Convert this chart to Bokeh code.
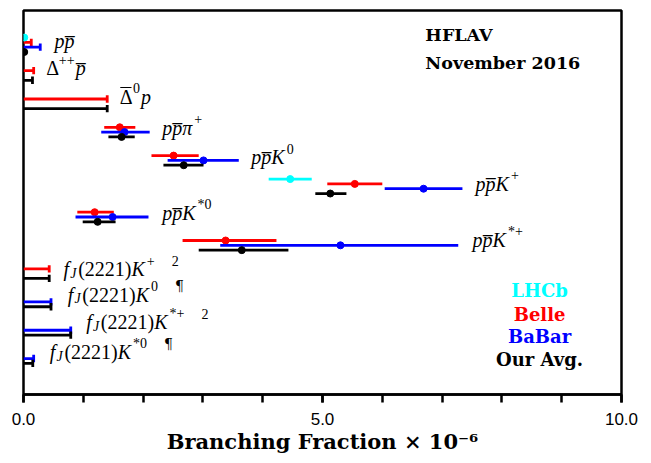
from bokeh.plotting import figure
from bokeh.models import Range1d, FixedTicker, NumeralTickFormatter
from bokeh.core.properties import value
from bokeh.embed import file_html
from bokeh.resources import INLINE

# ---------------- data (branching fractions x 1e-6) ----------------
decays = ["pp̄", "Δ⁺⁺p̄", "Δ̄⁰p", "pp̄π⁺", "pp̄K⁰", "pp̄K⁺", "pp̄K*⁰", "pp̄K*⁺",
          "fJ(2221)K⁺", "fJ(2221)K⁰", "fJ(2221)K*⁺", "fJ(2221)K*⁰"]

lhcb_row = [0, 5]
lhcb_val = [0.0125, 4.46]
lhcb_lo = [0.0075, 4.10]
lhcb_hi = [0.0175, 4.82]

belle_row = [3, 4, 5, 6, 7]
belle_val = [1.61, 2.51, 5.54, 1.19, 3.38]
belle_lo = [1.35, 2.14, 5.08, 0.90, 2.66]
belle_hi = [1.87, 2.93, 6.00, 1.51, 4.23]
belle_ul_row = [0, 1, 2, 8]
belle_ul = [0.13, 0.17, 1.40, 0.43]

babar_row = [3, 4, 5, 6, 7]
babar_val = [1.69, 3.01, 6.69, 1.49, 5.30]
babar_lo = [1.30, 2.41, 6.04, 0.87, 3.29]
babar_hi = [2.11, 3.60, 7.34, 2.09, 7.27]
babar_ul_row = [0, 9, 10, 11]
babar_ul = [0.28, 0.46, 0.79, 0.17]

avg_row = [0, 3, 4, 5, 6, 7]
avg_val = [0.0125, 1.64, 2.68, 5.13, 1.24, 3.65]
avg_lo = [0.0075, 1.42, 2.34, 4.88, 0.99, 2.93]
avg_hi = [0.0175, 1.86, 3.01, 5.40, 1.54, 4.43]
avg_ul_row = [1, 2, 8, 9, 10, 11]
avg_ul = [0.15, 1.40, 0.43, 0.46, 0.79, 0.155]

x_ticks = [0, 5, 10]
x_minor = [0, 1, 2, 3, 4, 5, 6, 7, 8, 9, 10]

# ---------------- layout / style ----------------
OFF = {"LHCb": -0.51, "Belle": -0.34, "BaBar": -0.17, "Avg": 0.0}
COL = {"LHCb": "#00FFFF", "Belle": "#FF0000", "BaBar": "#0000FF", "Avg": "#000000"}
LW = 2.8
CAP = 0.13
YMIN, YMAX = -1.466, 12.10
W_PX, H_PX = 651, 463
BL, BR, BT, BB = 23, 30, 10, 69
PX_X = (W_PX - BL - BR) / 10.0            # px per x unit
PX_Y = (H_PX - BT - BB) / (YMAX - YMIN)   # px per row unit
TSHIFT = -7                                # text baseline correction (px)

p = figure(width=W_PX, height=H_PX, output_backend="svg", toolbar_location=None,
           x_range=Range1d(0, 10), y_range=Range1d(YMAX, YMIN),
           y_axis_location=None, min_border_left=BL, min_border_right=BR,
           min_border_top=BT, min_border_bottom=BB)
p.xgrid.visible = False
p.ygrid.visible = False
p.outline_line_color = "black"
p.outline_line_width = 2.5
p.background_fill_color = "white"
p.border_fill_color = "white"

ax = p.xaxis[0]
ax.ticker = FixedTicker(ticks=x_ticks, minor_ticks=x_minor)
ax.formatter = NumeralTickFormatter(format="0.0")
ax.axis_line_width = 2.5
ax.major_tick_line_width = 2.5
ax.minor_tick_line_width = 2.5
ax.major_tick_in = 0
ax.major_tick_out = 8
ax.minor_tick_in = 0
ax.minor_tick_out = 8
ax.major_label_text_font = "Liberation Sans"
ax.major_label_text_font_size = "17px"
ax.major_label_text_color = "black"
ax.major_label_standoff = 10
ax.axis_label = "Branching Fraction × 10⁻⁶"
ax.axis_label_text_font = "DejaVu Serif"
ax.axis_label_text_font_style = "bold"
ax.axis_label_text_font_size = "21px"
ax.axis_label_text_color = "black"
ax.axis_label_standoff = 1


def meas(rows, val, lo, hi, key):
    y = [r + OFF[key] for r in rows]
    p.segment(x0=lo, x1=hi, y0=y, y1=y, line_color=COL[key], line_width=LW)
    p.scatter(x=val, y=y, size=7, color=COL[key])


def limits(rows, ul, key):
    y = [r + OFF[key] for r in rows]
    p.segment(x0=[0] * len(ul), x1=ul, y0=y, y1=y, line_color=COL[key], line_width=LW)
    p.segment(x0=ul, x1=ul, y0=[v - CAP for v in y], y1=[v + CAP for v in y],
              line_color=COL[key], line_width=LW)


limits(belle_ul_row, belle_ul, "Belle")
limits(babar_ul_row, babar_ul, "BaBar")
limits(avg_ul_row, avg_ul, "Avg")
meas(lhcb_row, lhcb_val, lhcb_lo, lhcb_hi, "LHCb")
meas(belle_row, belle_val, belle_lo, belle_hi, "Belle")
meas(babar_row, babar_val, babar_lo, babar_hi, "BaBar")
meas(avg_row, avg_val, avg_lo, avg_hi, "Avg")

# ---------------- decay labels (composed text pieces) ----------------
FS = 20
SS = 14
W = {"p": 0.5, "K": 0.667, "f": 0.278, "J": 0.444, "π": 0.55, "Δ": 0.612,
     "0": 0.5, "1": 0.5, "2": 0.5, "(": 0.333, ")": 0.333, "+": 0.564,
     "*": 0.5, "¶": 0.6, " ": 0.25}

OL = "\u0305"
# (text, kind, gap before in em, overline height above baseline in px or None)
fj = [("f", "i", 0, None), ("J", "sub", 0.06, None), ("(2221)", "r", 0.08, None), ("K", "i", 0, None)]
label_parts = [
    [("pp" + OL, "i", 0, None)],
    [("Δ", "r", 0, None), ("++", "sup", 0.02, None), ("p" + OL, "i", 0.05, None)],
    [("Δ", "r", 0, 16.0), ("0", "sup", 0.05, None), ("p", "i", 0.05, None)],
    [("pp" + OL + "π", "i", 0, None), ("+", "sup", 0.05, None)],
    [("pp" + OL + "K", "i", 0, None), ("0", "sup", 0.1, None)],
    [("pp" + OL + "K", "i", 0, None), ("+", "sup", 0.1, None)],
    [("pp" + OL + "K", "i", 0, None), ("*0", "sup", 0.1, None)],
    [("pp" + OL + "K", "i", 0, None), ("*+", "sup", 0.1, None)],
    fj + [("+", "sup", 0.1, None), ("2", "sup", 0.85, None)],
    fj + [("0", "sup", 0.1, None), ("¶", "sup", 0.85, None)],
    fj + [("*+", "sup", 0.1, None), ("2", "sup", 0.85, None)],
    fj + [("*0", "sup", 0.1, None), ("¶", "sup", 0.85, None)],
]
label_x = [0.52, 0.38, 1.61, 2.32, 3.81, 7.56, 2.32, 7.51, 0.67, 0.74, 1.05, 0.44]
label_dy = [-0.14, -0.18, -0.18, -0.07, -0.04, -0.10, -0.07, -0.10, -0.07, -0.18, -0.21, -0.14]

for i, parts in enumerate(label_parts):
    cur = 0.0
    base_y = i + label_dy[i]
    for txt, kind, gap, ovl in parts:
        cur += gap * FS
        size = SS if kind in ("sup", "sub") else FS
        yoff = -8.5 if kind == "sup" else (4 if kind == "sub" else 0)
        style = "italic" if kind in ("i", "sub") else "normal"
        font = "DejaVu Serif" if txt == "¶" else "Liberation Serif"
        p.text(x=[label_x[i]], y=[base_y], text=[txt], x_offset=cur, y_offset=yoff + TSHIFT,
               text_font=value(font), text_font_style=style,
               text_font_size=f"{size}px", text_baseline="alphabetic", text_align="left",
               text_color="black")
        wpx = sum(W.get(c, 0.0) for c in txt) * size
        if ovl is not None:
            x0 = label_x[i] + (cur + 0.5) / PX_X
            x1 = label_x[i] + (cur + wpx - 0.5) / PX_X
            yl = base_y - ovl / PX_Y
            p.segment(x0=[x0], x1=[x1], y0=[yl], y1=[yl], line_color="black", line_width=1.2)
        cur += wpx

# ---------------- header and legend ----------------
p.text(x=[6.72, 6.72], y=[-0.336, 0.62], text=["HFLAV", "November 2016"], y_offset=TSHIFT,
       text_font=value("DejaVu Serif"), text_font_style="bold", text_font_size="17.5px",
       text_baseline="alphabetic", text_align="left", text_color="black")

leg_names = ["LHCb", "Belle", "BaBar", "Our Avg."]
leg_cols = [COL["LHCb"], COL["Belle"], COL["BaBar"], COL["Avg"]]
leg_y = [8.67, 9.52, 10.30, 11.11]
p.text(x=[8.63] * 4, y=leg_y, text=leg_names, text_color=leg_cols, y_offset=TSHIFT,
       text_font=value("DejaVu Serif"), text_font_style="bold", text_font_size="18px",
       text_baseline="alphabetic", text_align="center")

open("out.html", "w").write(file_html(p, INLINE))
